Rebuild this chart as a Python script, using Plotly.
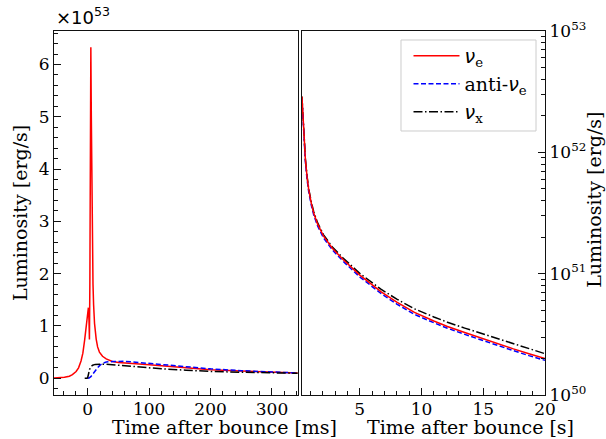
import plotly.graph_objects as go

# ---------------- data: left panel (time in ms, luminosity in 1e53 erg/s) -------------
t_nue_ms = [-55, -45, -38, -30, -25, -19, -15, -11, -8, -5, -3, -1.5, 0, 1.0, 2.0, 2.7, 3.4,
            4.2, 5.0, 5.8, 6.6, 7.5, 8.5, 9.5, 11, 13.7, 16, 19, 24, 30, 35, 40, 50, 84, 100,
            150, 200, 250, 300, 342]
L_nue_ms = [0.005, 0.01, 0.02, 0.04, 0.07, 0.13, 0.2, 0.33, 0.48, 0.74, 0.95, 1.13, 1.3, 1.35,
            1.1, 0.74, 1.8, 4.0, 6.33, 5.0, 3.6, 2.6, 1.8, 1.4, 1.05, 0.75, 0.6, 0.5, 0.42, 0.37,
            0.34, 0.32, 0.30, 0.28, 0.26, 0.21, 0.165, 0.14, 0.115, 0.10]

t_anue_ms = [0, 2, 5, 8, 12, 16, 20, 25, 30, 40, 60, 84, 120, 160, 200, 250, 300, 342]
L_anue_ms = [0, 0.005, 0.03, 0.08, 0.15, 0.2, 0.25, 0.29, 0.31, 0.32, 0.325, 0.30, 0.27, 0.22,
             0.18, 0.145, 0.115, 0.10]

t_nux_ms = [-5, -1, 0, 1.5, 3, 5, 8, 12, 20, 30, 40, 60, 84, 120, 160, 200, 250, 300, 342]
L_nux_ms = [0, 0, 0.02, 0.1, 0.17, 0.22, 0.25, 0.265, 0.27, 0.27, 0.26, 0.24, 0.21, 0.18,
            0.155, 0.13, 0.115, 0.105, 0.095]

# ---------------- data: right panel (time in s, luminosity in erg/s) -------------------
t_s = [0.32, 0.39, 0.46, 0.53, 0.60, 0.73, 0.87, 1.08, 1.27, 1.58, 2.07, 2.78, 3.67, 4.98,
       6.74, 8.0, 9.43, 11.0, 12.1, 13.5, 14.78, 16.0, 17.44, 18.7, 20.0]
L_nue_s = [2.88e52, 2.00e52, 1.51e52, 1.15e52, 8.71e51, 6.31e51, 4.90e51, 3.80e51, 3.16e51,
           2.57e51, 2.04e51, 1.62e51, 1.30e51, 9.77e50, 7.08e50, 5.82e50, 4.79e50, 4.07e50,
           3.67e50, 3.27e50, 2.95e50, 2.69e50, 2.40e50, 2.19e50, 2.00e50]
L_anue_s = [2.75e52, 1.91e52, 1.45e52, 1.10e52, 8.32e51, 6.03e51, 4.70e51, 3.66e51, 3.05e51,
            2.48e51, 1.97e51, 1.57e51, 1.26e51, 9.44e50, 6.84e50, 5.62e50, 4.62e50, 3.94e50,
            3.55e50, 3.16e50, 2.85e50, 2.60e50, 2.32e50, 2.11e50, 1.93e50]
L_nux_s = [2.88e52, 2.00e52, 1.51e52, 1.15e52, 8.81e51, 6.41e51, 4.99e51, 3.89e51, 3.24e51,
           2.63e51, 2.09e51, 1.66e51, 1.34e51, 1.01e51, 7.41e50, 6.17e50, 5.13e50, 4.40e50,
           3.98e50, 3.56e50, 3.24e50, 2.95e50, 2.63e50, 2.40e50, 2.19e50]

# ---------------- tick definitions --------------------------------------------------------
left_xticks = [0, 100, 200, 300]
left_yticks = [0, 1, 2, 3, 4, 5, 6]
right_xticks = [5, 10, 15, 20]
right_yticks = [1e50, 1e51, 1e52, 1e53]
right_yticktext = ["10<sup>50</sup>", "10<sup>51</sup>", "10<sup>52</sup>", "10<sup>53</sup>"]
right_yminor = [float(m) * 10.0 ** e for e in (50, 51, 52) for m in range(2, 10)]

NU = "<span style=\"font-family:'DejaVu Sans';font-style:italic\">ν</span>"
names = [NU + "<sub>e</sub>", "anti-" + NU + "<sub>e</sub>", NU + "<sub>x</sub>"]

RED = "#ff0000"
BLUE = "#0000ff"
BLACK = "#000000"
DASH = "5px,2.5px"
DASHDOT = "9px,2.5px,1.5px,2.5px"
LW = 1.5

fig = go.Figure()
fig.add_trace(go.Scatter(x=t_nue_ms, y=L_nue_ms, mode="lines", name=names[0], legend="legend",
                         line=dict(color=RED, width=LW), xaxis="x", yaxis="y"))
fig.add_trace(go.Scatter(x=t_anue_ms, y=L_anue_ms, mode="lines", name=names[1], legend="legend2",
                         line=dict(color=BLUE, width=LW, dash=DASH), xaxis="x", yaxis="y"))
fig.add_trace(go.Scatter(x=t_nux_ms, y=L_nux_ms, mode="lines", name=names[2], legend="legend3",
                         line=dict(color=BLACK, width=LW, dash=DASHDOT), xaxis="x", yaxis="y"))

fig.add_trace(go.Scatter(x=t_s, y=L_nux_s, mode="lines", showlegend=False,
                         line=dict(color=BLACK, width=LW, dash=DASHDOT), xaxis="x2", yaxis="y2"))
fig.add_trace(go.Scatter(x=t_s, y=L_anue_s, mode="lines", showlegend=False,
                         line=dict(color=BLUE, width=LW, dash=DASH), xaxis="x2", yaxis="y2"))
fig.add_trace(go.Scatter(x=t_s, y=L_nue_s, mode="lines", showlegend=False,
                         line=dict(color=RED, width=LW), xaxis="x2", yaxis="y2"))

SERIF = "DejaVu Serif"
TICK_SIZE = 17
LABEL_SIZE = 19
tickfont = dict(family=SERIF, size=TICK_SIZE, color="#000")
axcommon = dict(showline=True, linecolor="#111", linewidth=1.2, mirror=True, showgrid=False,
                zeroline=False, ticks="inside", ticklen=7, tickwidth=1.2, tickcolor="#111",
                tickfont=tickfont)

legfont = dict(family=SERIF, size=LABEL_SIZE, color="#000")
def leg(y):
    return dict(x=0.722, y=y, xanchor="left", yanchor="middle", bgcolor="rgba(0,0,0,0)",
                borderwidth=0, itemwidth=46, font=legfont)

fig.update_layout(
    width=606, height=439,
    margin=dict(l=54, r=61, t=31, b=44),
    paper_bgcolor="white", plot_bgcolor="white",
    xaxis=dict(domain=[0, 0.4965], range=[-55, 342], tickvals=left_xticks,
               minor=dict(ticks="inside", dtick=20, tick0=0, ticklen=4, tickcolor="#111"),
               anchor="y", ticklabelstandoff=-2, **axcommon),
    yaxis=dict(range=[-0.32, 6.64], tickvals=left_yticks,
               minor=dict(ticks="inside", dtick=0.2, tick0=0, ticklen=4, tickcolor="#111"),
               anchor="x", **axcommon),
    xaxis2=dict(domain=[0.5045, 1], range=[0.3, 20], tickvals=right_xticks,
                minor=dict(ticks="inside", dtick=1, tick0=0, ticklen=4, tickcolor="#111"),
                anchor="y2", ticklabelstandoff=-2, **axcommon),
    yaxis2=dict(type="log", range=[50, 53], side="right", tickvals=right_yticks,
                ticktext=right_yticktext,
                minor=dict(ticks="inside", tickvals=right_yminor, ticklen=4, tickcolor="#111"),
                anchor="x2", **axcommon),
    legend=leg(0.9313),
    legend2=leg(0.8544),
    legend3=leg(0.7775),
    shapes=[dict(type="rect", xref="paper", yref="paper", x0=0.7067, x1=0.9817,
                 y0=0.7253, y1=0.9753, line=dict(color="#cccccc", width=1),
                 fillcolor="rgba(0,0,0,0)", layer="above")],
    annotations=[
        dict(text="×10<sup>53</sup>", xref="paper", yref="paper", x=0.0, y=1.0,
             xanchor="left", yanchor="bottom", yshift=1, showarrow=False,
             font=dict(family="DejaVu Sans", size=18, color="#000")),
        dict(text="Time after bounce [ms]", xref="paper", yref="paper", x=0.348, y=-0.1209,
             xanchor="center", yanchor="bottom", showarrow=False, borderpad=0,
             font=dict(family=SERIF, size=LABEL_SIZE, color="#000")),
        dict(text="Time after bounce [s]", xref="paper", yref="paper", x=0.849, y=-0.1209,
             xanchor="center", yanchor="bottom", showarrow=False, borderpad=0,
             font=dict(family=SERIF, size=LABEL_SIZE, color="#000")),
        dict(text="Luminosity [erg/s]", xref="paper", yref="paper", x=-0.069, y=0.5,
             xanchor="center", yanchor="middle", textangle=-90, showarrow=False,
             font=dict(family=SERIF, size=LABEL_SIZE, color="#000")),
        dict(text="Luminosity [erg/s]", xref="paper", yref="paper", x=1.101, y=0.535,
             xanchor="center", yanchor="middle", textangle=-90, showarrow=False,
             font=dict(family=SERIF, size=LABEL_SIZE, color="#000")),
    ],
)

fig.write_html("out.html")
